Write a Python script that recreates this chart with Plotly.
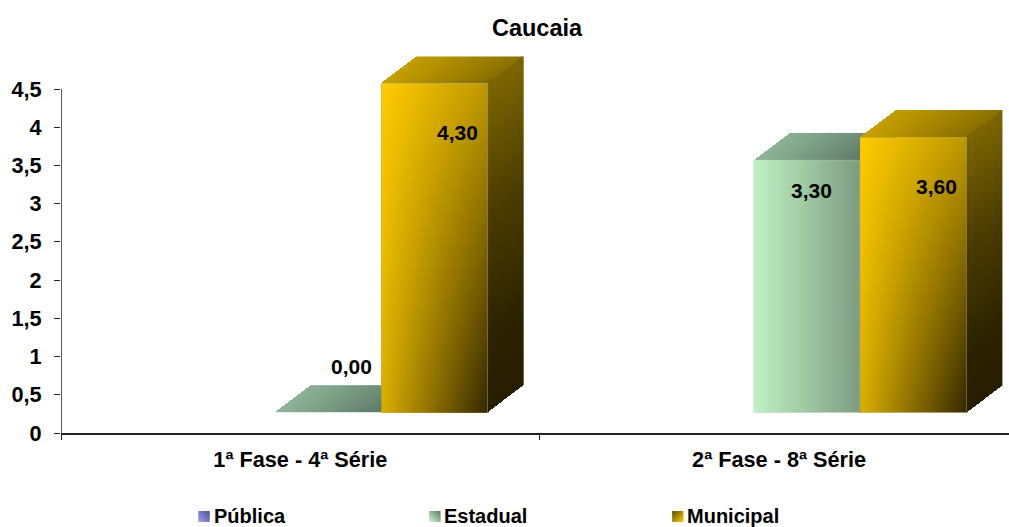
import numpy as np
import plotly.graph_objects as go

TITLE = "Caucaia"
CATEGORIES = ["1ª Fase - 4ª Série", "2ª Fase - 8ª Série"]
SERIES = ["Pública", "Estadual", "Municipal"]
PUBLICA = [None, None]
ESTADUAL = [0.0, 3.3]
MUNICIPAL = [4.3, 3.6]
Y_TICKS = [0, 0.5, 1, 1.5, 2, 2.5, 3, 3.5, 4, 4.5]
Y_LABELS = ["0", "0,5", "1", "1,5", "2", "2,5", "3", "3,5", "4", "4,5"]

W, H = 1009, 527
LEFT, BOTTOM, Y45 = 60.5, 433.0, 89.0
PX_CAT = 479.0
PX_UNIT = (BOTTOM - Y45) / 4.5
BAR_W = 106.4 / PX_CAT
DX = 36.0 / PX_CAT
DY = 27.3 / PX_UNIT
FLOOR = 20.5 / PX_UNIT
GROUP_SHIFT = 27.8 / PX_CAT
xr = [0, (W - LEFT) / PX_CAT]
yr = [0, BOTTOM / PX_UNIT]
FONT = "Liberation Sans, Arial, sans-serif"

GOLD_FRONT = [[0, "#FFCC00"], [1, "#2A2000"]]
GOLD_SIDE = [[0, "#7D6600"], [0.4, "#4A3C00"], [0.8, "#2A2200"], [1, "#261E00"]]
GOLD_TOP = [[0, "#C9A200"], [1, "#866C00"]]
GREEN_FRONT = [[0, "#C0F1C4"], [1, "#7D9C83"]]
GREEN_SIDE = [[0, "#6F8C76"], [1, "#4F6455"]]
GREEN_TOP = [[0, "#90B699"], [1, "#5D7866"]]
STYLES = {
    "Estadual": dict(front=GREEN_FRONT, side=GREEN_SIDE, top=GREEN_TOP,
                     corners=(0, 1, 0, 1), base="#9CC8A2"),
    "Municipal": dict(front=GOLD_FRONT, side=GOLD_SIDE, top=GOLD_TOP,
                      corners=(0, .3, .17, .95), base="#B08C00"),
}

fig = go.Figure()


def heat(xs, ys, z, scale):
    fig.add_trace(go.Heatmap(x=xs, y=ys, z=z, colorscale=scale, zmin=0, zmax=1,
                             showscale=False, hoverinfo="skip", xaxis="x2", yaxis="y2"))


def grid(x0, x1, y0, y1):
    nx = max(int(round((x1 - x0) * PX_CAT)), 1)
    ny = max(int(round((y1 - y0) * PX_UNIT)), 1)
    xs = x0 + (np.arange(nx) + .5) * (x1 - x0) / nx
    ys = y0 + (np.arange(ny) + .5) * (y1 - y0) / ny
    return xs, ys, *np.meshgrid(xs, ys)


def draw_box(left, value, st):
    right = left + BAR_W
    base, top = FLOOR, FLOOR + value
    if value > 0:
        xs, ys, X, Y = grid(left, right, base, top)
        u, v = (X - left) / BAR_W, (top - Y) / value
        a, b, c, d = st["corners"]
        heat(xs, ys, (1-u)*(1-v)*a + u*(1-v)*b + (1-u)*v*c + u*v*d, st["front"])
        xs, ys, X, Y = grid(right, right + DX, base, top + DY)
        u = (X - right) / DX
        v = (top + u * DY - Y) / value
        z = np.where((Y >= base + u * DY) & (Y <= top + u * DY + 1.5 / PX_UNIT), np.clip(v, 0, 1), np.nan)
        heat(xs, ys, z, st["side"])
    xs, ys, X, Y = grid(left, right + DX, top, top + DY)
    w = (Y - top) / DY
    u = (X - left - w * DX) / BAR_W
    t = np.clip((1-w) * u + w * (.1 + .8 * u), 0, 1)
    heat(xs, ys, np.where((u >= 0) & (u <= 1), t, np.nan), st["top"])


centers = [i + .5 + GROUP_SHIFT for i in range(len(CATEGORIES))]
SERIES_OFFSET = {"Estadual": 0.0, "Municipal": BAR_W}
for name, vals in [("Estadual", ESTADUAL), ("Municipal", MUNICIPAL)]:
    fig.add_trace(go.Bar(x=[c + SERIES_OFFSET[name] for c in centers], y=vals, base=FLOOR,
                         width=BAR_W, name=name, marker_color=STYLES[name]["base"],
                         marker_line_width=0, showlegend=False, hoverinfo="skip"))

for i, c in enumerate(centers):
    draw_box(c - BAR_W / 2, ESTADUAL[i], STYLES["Estadual"])
for i, c in enumerate(centers):
    draw_box(c + BAR_W / 2, MUNICIPAL[i], STYLES["Municipal"])

LABEL_SHIFT = [(0, 1, 76.5, -28), (1, 1, 76, -29), (1, 0, 58, -10), (0, 0, 77, 67)]
for cat, ser, sx, sy in LABEL_SHIFT:
    val = (ESTADUAL, MUNICIPAL)[ser][cat]
    left = centers[cat] - BAR_W / 2 + ser * BAR_W
    fig.add_annotation(x=left, y=val, xref="x", yref="y", text=f"{val:.2f}".replace(".", ","),
                       showarrow=False, xshift=sx, yshift=sy,
                       font=dict(family=FONT, size=21, color="#000", weight=700))

# legend below the plot area (page pixels -> paper fractions)
LEGEND_SWATCH_X = [198, 429, 672]
LEGEND_TEXT_X = [212, 442, 685]
LEGEND_Y = 516
SWATCH_TOP, SWATCH_SIZE = 511, 11
SWATCH_LIGHT = {"Pública": (160, 160, 250), "Estadual": (205, 248, 208), "Municipal": (255, 204, 0)}
SWATCH_DARK = {"Pública": (80, 80, 140), "Estadual": (95, 122, 102), "Municipal": (95, 76, 0)}
SWATCH_LEAN = {"Pública": 1, "Estadual": 1, "Municipal": -1}


def paper_x(px):
    return (px - LEFT) / (W - LEFT)


def paper_y(py):
    return (BOTTOM - py) / BOTTOM


shapes = [dict(type="line", xref="x", yref="y", x0=0, x1=0, y0=0, y1=4.5,
               line=dict(color="#222", width=1.5))]
for name, sx, tx in zip(SERIES, LEGEND_SWATCH_X, LEGEND_TEXT_X):
    for j in range(0, SWATCH_SIZE, 2):
        for i in range(0, SWATCH_SIZE, 2):
            across = (i + 1) / SWATCH_SIZE
            if SWATCH_LEAN[name] < 0:
                across = 1 - across
            t = ((1 - (j + 1) / SWATCH_SIZE) + across) / 2
            rgb = [round(a + (b - a) * t) for a, b in zip(SWATCH_LIGHT[name], SWATCH_DARK[name])]
            # cells overlap by one pixel so no seams show between them
            shapes.append(dict(type="rect", xref="paper", yref="paper",
                               x0=paper_x(sx + i), x1=paper_x(sx + min(i + 3, SWATCH_SIZE)),
                               y0=paper_y(SWATCH_TOP + j), y1=paper_y(SWATCH_TOP + min(j + 3, SWATCH_SIZE)),
                               line_width=0, fillcolor=f"rgb({rgb[0]},{rgb[1]},{rgb[2]})"))
    fig.add_annotation(x=paper_x(tx), y=paper_y(LEGEND_Y), xref="paper", yref="paper",
                       text=name, showarrow=False, xanchor="left", yanchor="middle",
                       font=dict(family=FONT, size=20, color="#000", weight=700))

tick_font = dict(family=FONT, size=21.7, color="#000", weight=700)
fig.update_layout(
    width=W, height=H, margin=dict(l=LEFT, r=0, t=0, b=H - BOTTOM), autosize=False,
    paper_bgcolor="white", plot_bgcolor="rgba(0,0,0,0)", barmode="overlay", showlegend=False,
    title=dict(text=TITLE, x=537 / W, xanchor="center", y=1 - 28 / H, yanchor="middle",
               font=dict(family=FONT, size=23.5, color="#000", weight=700)),
    xaxis=dict(range=xr, tickvals=[i + .5 for i in range(len(CATEGORIES))],
               ticktext=CATEGORIES, ticks="", tickfont=tick_font, ticklabelstandoff=6,
               showgrid=False, zeroline=False, showline=True, linecolor="#222", linewidth=1.5),
    yaxis=dict(range=yr, tickvals=Y_TICKS, ticktext=Y_LABELS, ticks="outside", ticklen=6,
               tickcolor="#222", tickwidth=1, tickfont=tick_font, ticklabelstandoff=8,
               showgrid=False, zeroline=False, showline=False),
    xaxis2=dict(range=xr, anchor="y2", overlaying="x", tickvals=[0, 1, 2], ticks="outside",
                ticklen=6, tickcolor="#222", tickwidth=1, showticklabels=False, showgrid=False,
                zeroline=False, showline=False),
    yaxis2=dict(range=yr, visible=False, anchor="x2", overlaying="y"),
    shapes=shapes,
)
fig.write_html("out.html", config={"displayModeBar": False},
               post_script="document.body.style.margin='0';")
